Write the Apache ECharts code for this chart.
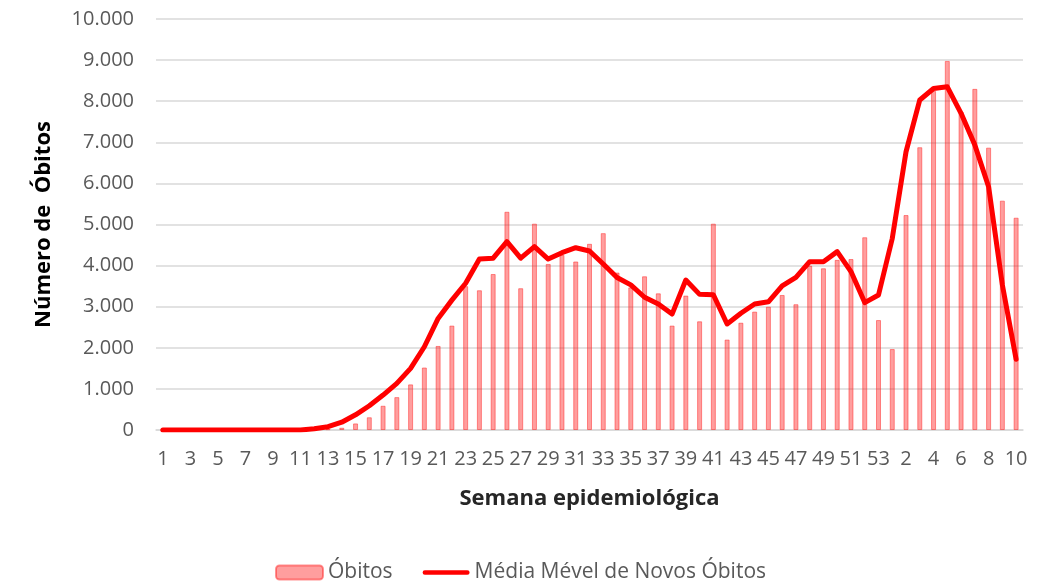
<!DOCTYPE html>
<html>
<head>
<meta charset="utf-8">
<script src="https://cdn.jsdelivr.net/npm/echarts@6/dist/echarts.min.js"></script>
<style>
html,body{margin:0;padding:0;background:#fff;}
#chart{width:1042px;height:586px;}
</style>
</head>
<body>
<div id="chart"></div>
<script>
const categories = [
  '1','2','3','4','5','6','7','8','9','10','11','12','13','14','15','16','17','18','19','20',
  '21','22','23','24','25','26','27','28','29','30','31','32','33','34','35','36','37','38','39','40',
  '41','42','43','44','45','46','47','48','49','50','51','52','53',
  '1','2','3','4','5','6','7','8','9','10'
];
const obitos = [
  0,0,0,0,0,0,0,0,0,0,0,0,20,55,160,310,590,800,1110,1520,
  2045,2540,3500,3400,3795,5310,3450,5020,4040,4260,4100,4530,4790,3830,3470,3740,3325,2540,3270,2645,
  5020,2200,2610,2880,3000,3285,3060,4000,3935,4140,4160,4690,2675,
  1970,5230,6880,8250,8980,7745,8300,6870,5580,5165
];
const mediaMovel = [
  0,0,0,0,0,0,0,0,0,0,0,30,80,190,370,590,850,1135,1500,2025,
  2715,3160,3570,4160,4180,4585,4180,4460,4160,4315,4435,4355,4040,3710,3530,3230,3065,2820,3650,3300,
  3290,2580,2840,3065,3120,3505,3715,4095,4095,4340,3855,3100,3285,
  4660,6770,8030,8310,8350,7705,6935,5920,3530,1720
];
const yTicks = { min: 0, max: 10000, interval: 1000 };

const FONT = '"Open Sans", "Liberation Sans", sans-serif';
const chart = echarts.init(document.getElementById('chart'), null, { renderer: 'canvas' });
chart.setOption({
  animation: false,
  backgroundColor: '#ffffff',
  textStyle: { fontFamily: FONT },
  grid: { left: 156, right: 19, top: 19, bottom: 156, containLabel: false },
  legend: {
    left: 270, top: 557,
    itemWidth: 47, itemHeight: 14, itemGap: 30,
    textStyle: { fontFamily: FONT, fontSize: 21, color: '#595959' },
    data: [
      { name: 'Óbitos' },
      { name: 'Média Mével de Novos Óbitos', icon: 'path://M2.5,0 L49.5,0 A2.5,2.5 0 0 1 49.5,5 L2.5,5 A2.5,2.5 0 0 1 2.5,0 Z' }
    ]
  },
  xAxis: {
    type: 'category',
    data: categories,
    boundaryGap: true,
    name: 'Semana epidemiológica',
    nameLocation: 'middle',
    nameGap: 58,
    nameTextStyle: { fontFamily: FONT, fontSize: 22, fontWeight: 'bold', color: '#262626' },
    axisLine: { lineStyle: { color: '#d9d9d9', width: 1.5 } },
    axisTick: { show: false },
    axisLabel: { interval: 1, margin: 19, fontSize: 20, color: '#595959', fontFamily: FONT, hideOverlap: false }
  },
  yAxis: {
    type: 'value',
    min: yTicks.min, max: yTicks.max, interval: yTicks.interval,
    name: 'Número de  Óbitos',
    nameLocation: 'middle',
    nameRotate: 90,
    nameGap: 101,
    nameTextStyle: { fontFamily: FONT, fontSize: 22, fontWeight: 'bold', color: '#000000' },
    axisLine: { show: false },
    axisTick: { show: false },
    splitLine: { lineStyle: { color: '#d9d9d9', width: 1.5 } },
    axisLabel: {
      margin: 22, fontSize: 20, color: '#595959', fontFamily: FONT,
      formatter: v => v.toString().replace(/\B(?=(\d{3})+(?!\d))/g, '.')
    }
  },
  series: [
    {
      name: 'Óbitos',
      type: 'bar',
      data: obitos,
      barWidth: 5,
      itemStyle: { color: 'rgba(255,0,0,0.38)', borderColor: 'rgba(255,40,40,0.5)', borderWidth: 1 },
      z: 2
    },
    {
      name: 'Média Mével de Novos Óbitos',
      type: 'line',
      data: mediaMovel,
      symbol: 'none',
      smooth: false,
      lineStyle: { color: '#ff0000', width: 5, cap: 'round', join: 'round' },
      itemStyle: { color: '#ff0000' },
      z: 3
    }
  ]
});
</script>
</body>
</html>
